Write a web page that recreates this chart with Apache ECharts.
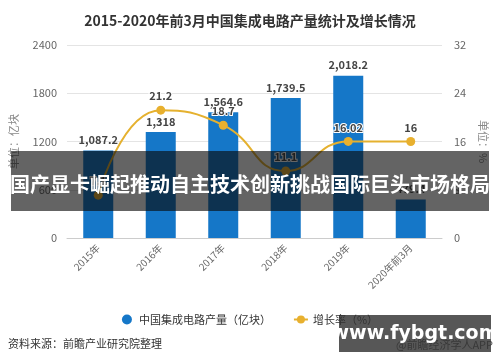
<!DOCTYPE html>
<html>
<head>
<meta charset="utf-8">
<script src="https://cdn.jsdelivr.net/npm/echarts@6/dist/echarts.min.js"></script>
<style>html,body{margin:0;padding:0;background:#fff}#c{width:500px;height:362px}</style>
</head>
<body>
<div id="c"></div>
<script>
var categories = ['2015年', '2016年', '2017年', '2018年', '2019年', '2020年前3月'];
var production = [1087.2, 1318, 1564.6, 1739.5, 2018.2, 479.4];
var growth = [7.1, 21.2, 18.7, 11.1, 16.02, 16];
var leftTicks = [0, 600, 1200, 1800, 2400];
var rightTicks = [0, 8, 16, 24, 32];

var FONT = '"Noto Sans CJK SC", "Noto Sans", sans-serif';
var chart = echarts.init(document.getElementById('c'), null, {renderer: 'canvas'});
function fmt(v) {
  var s = String(v).split('.');
  s[0] = s[0].replace(/\B(?=(\d{3})+(?!\d))/g, ',');
  return s.join('.');
}
chart.setOption({
  animation: false,
  textStyle: {fontFamily: FONT},
  title: {
    text: '2015-2020年前3月中国集成电路产量统计及增长情况',
    left: 'center', top: 9,
    textStyle: {fontSize: 14, fontWeight: 'bold', color: '#333', fontFamily: FONT}
  },
  legend: {
    top: 309, left: 'center', itemGap: 22, itemWidth: 14, itemHeight: 10,
    textStyle: {fontSize: 11, color: '#333', fontFamily: FONT},
    data: [
      {name: '中国集成电路产量（亿块）', icon: 'circle'},
      {name: '增长率（%）'}
    ]
  },
  grid: {left: 66, right: 58, top: 45, bottom: 124},
  xAxis: {
    type: 'category', data: categories,
    axisLine: {lineStyle: {color: '#cccccc'}},
    axisTick: {alignWithLabel: true, lineStyle: {color: '#cccccc'}},
    axisLabel: {rotate: 45, fontSize: 10, color: '#666', margin: 8, interval: 0}
  },
  yAxis: [
    {
      type: 'value', min: leftTicks[0], max: leftTicks[leftTicks.length - 1], interval: 600,
      name: '单位：亿块', nameLocation: 'middle', nameRotate: 90, nameGap: 48,
      nameTextStyle: {fontSize: 11, color: '#888'},
      axisLine: {show: false}, axisTick: {show: false},
      axisLabel: {fontSize: 11, color: '#666', margin: 10, formatter: function (v) { return String(v); }},
      splitLine: {lineStyle: {color: '#e4e4e4'}}
    },
    {
      type: 'value', min: rightTicks[0], max: rightTicks[rightTicks.length - 1], interval: 8,
      name: '单位：%', nameLocation: 'middle', nameRotate: -90, nameGap: 36,
      nameTextStyle: {fontSize: 11, color: '#888'},
      axisLine: {show: false}, axisTick: {show: false},
      axisLabel: {fontSize: 11, color: '#666', margin: 12},
      splitLine: {show: false}
    }
  ],
  series: [
    {
      name: '中国集成电路产量（亿块）', type: 'bar', data: production, barWidth: 30,
      itemStyle: {color: '#1577c8'},
      label: {show: true, position: 'top', distance: 5, fontSize: 11, fontWeight: 'bold', color: '#444',
        formatter: function (p) { return fmt(p.value); }}
    },
    {
      name: '增长率（%）', type: 'line', yAxisIndex: 1, data: growth, smooth: true,
      symbol: 'circle', symbolSize: 9,
      lineStyle: {color: '#e5b12f', width: 2},
      itemStyle: {color: '#e8b02e'},
      label: {show: true, position: 'top', distance: 4, fontSize: 11, fontWeight: 'bold', color: '#444',
        textBorderColor: '#fff', textBorderWidth: 2}
    }
  ],
  graphic: [
    {type: 'text', z: 100, left: 8, top: 338, style: {text: '资料来源：前瞻产业研究院整理', font: '11px ' + FONT, fill: '#333'}},
    {type: 'text', z: 100, left: 396, top: 339, style: {text: '@前瞻经济学人APP', font: '11px ' + FONT, fill: '#555'}},
    {type: 'rect', z: 101, shape: {x: 339, y: 315, width: 152, height: 37}, style: {fill: 'rgba(50,50,50,0.82)'}},
    {type: 'text', z: 102, x: 415, y: 334, style: {text: 'www.fybgt.com', font: 'bold 19px "DejaVu Sans", sans-serif', fill: '#fff', align: 'center', verticalAlign: 'middle'}},
    {type: 'rect', z: 101, shape: {x: 11, y: 151, width: 478, height: 60}, style: {fill: 'rgba(10,10,10,0.63)'}},
    {type: 'text', z: 102, x: 250, y: 184, style: {text: '国产显卡崛起推动自主技术创新挑战国际巨头市场格局', font: 'bold 20px ' + FONT, fill: '#fff', align: 'center', verticalAlign: 'middle'}}
  ]
});
</script>
</body>
</html>
